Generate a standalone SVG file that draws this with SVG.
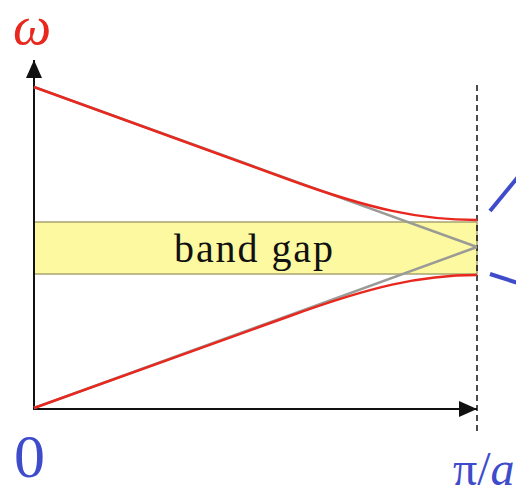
<svg xmlns="http://www.w3.org/2000/svg" width="516" height="494" viewBox="0 0 516 494">
<style>
.axis{stroke:#111;stroke-width:2;fill:none}
.red{stroke:#e8281e;stroke-width:2.5;fill:none}
.gray{stroke:#9a9a96;stroke-width:2.5;fill:none}
.blue{stroke:#3e4ccc;stroke-width:4;fill:none}
text{font-family:'Liberation Serif','DejaVu Serif',serif}
</style>
<defs>
<marker id="ah" markerWidth="18" markerHeight="16" refX="18" refY="8" orient="auto" markerUnits="userSpaceOnUse" viewBox="0 0 18 16">
<path d="M0,0 L18,8 L0,16 Z" fill="#111"/>
</marker>
</defs>
<rect width="516" height="494" fill="#fff"/>
<g id="bandgap">
<rect x="34" y="222" width="443" height="52" fill="#fdf9a0" stroke="#a8a470" stroke-width="1.5"/>
<text x="174" y="262" font-size="40" textLength="159" lengthAdjust="spacing" fill="#111">band gap</text>
</g>
<g id="connectors">
<line class="axis" x1="34" y1="410" x2="34" y2="60" marker-end="url(#ah)"/>
<line class="axis" x1="34" y1="409" x2="477" y2="409" marker-end="url(#ah)"/>
<line x1="477" y1="85" x2="477" y2="434" stroke="#111" stroke-width="1.5" stroke-dasharray="6,4"/>
<line class="gray" x1="34" y1="87" x2="477" y2="247"/>
<line class="gray" x1="34" y1="408" x2="477" y2="247"/>
<path class="red" d="M34,87 L290,180 C370,209 420,220 477,220"/>
<path class="red" d="M34,408 L290,316 C370,287 420,275 477,275"/>
<line class="blue" x1="490" y1="211" x2="518" y2="177"/>
<line class="blue" x1="490" y1="274" x2="518" y2="283"/>
</g>
<g id="labels">
<text x="13" y="44" font-size="54" font-style="italic" fill="#e8281e">ω</text>
<text x="14" y="477" font-size="62" fill="#3e4ccc">0</text>
<text x="453" y="485" font-size="48" fill="#3e4ccc">π/<tspan font-style="italic">a</tspan></text>
</g>
</svg>
